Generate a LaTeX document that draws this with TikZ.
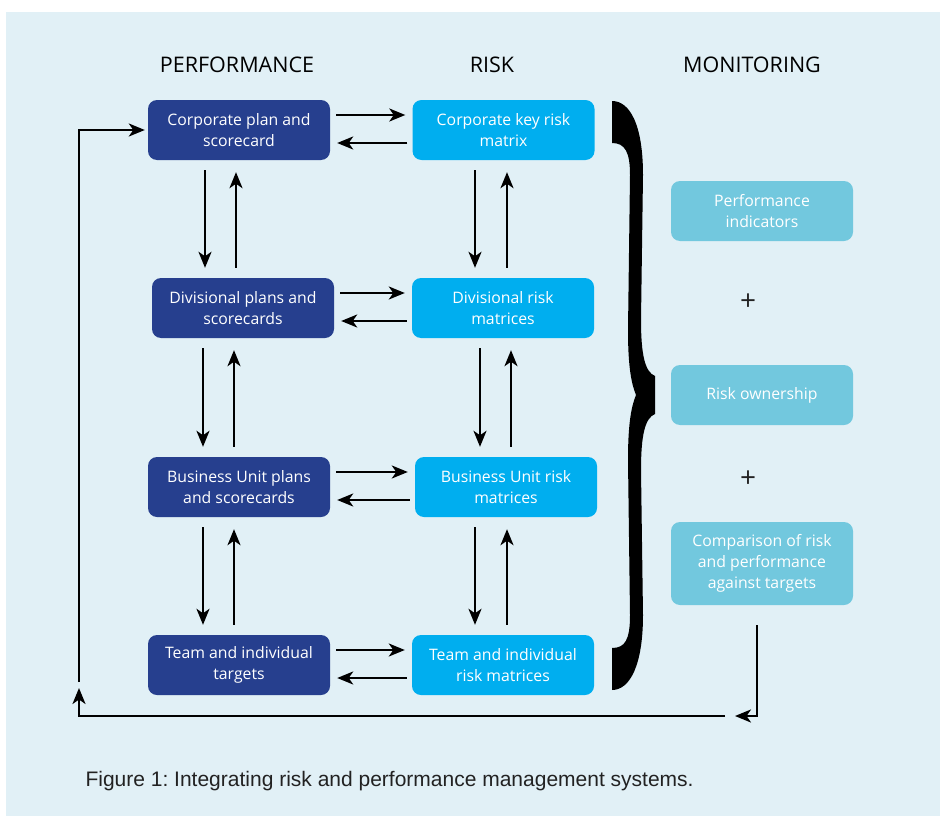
\documentclass[tikz,border=0pt]{standalone}
\usepackage{fontspec}
\setmainfont{Open Sans}
\newfontfamily\capfont{Liberation Sans}
\usetikzlibrary{arrows.meta,calc}
\frenchspacing
\definecolor{bgc}{HTML}{E1F0F6}
\definecolor{perfc}{HTML}{263F8E}
\definecolor{riskc}{HTML}{00AEEF}
\definecolor{monc}{HTML}{72C8DE}
\definecolor{txtc}{HTML}{222222}
\newcommand\vlink[4]{%
  \draw[arr, shorten <=10pt, shorten >=10pt] ([xshift=#3pt]#1.south) -- ([xshift=#3pt]#1.south |- #2.north);
  \draw[arr, shorten <=10pt, shorten >=12pt] ([xshift=#4pt]#1.south |- #2.north) -- ([xshift=#4pt]#1.south);
}
\newcommand\hlink[2]{%
  \draw[arr] ([xshift=6pt,yshift=15pt]#1.east) -- ([xshift=-7pt,yshift=15pt]#2.west);
  \draw[arr] ([xshift=-5pt,yshift=-13pt]#2.west) -- ([xshift=7pt,yshift=-13pt]#1.east);
}
\begin{document}
\begin{tikzpicture}[x=1pt,y=-1pt,
  box/.style={rounded corners=9pt, minimum width=182pt, minimum height=60pt, align=center,
    text=white, font=\fontsize{15.8}{21}\selectfont, inner sep=0pt},
  perf/.style={box, fill=perfc},
  risk/.style={box, fill=riskc},
  mon/.style={box, fill=monc},
  arr/.style={line width=2.3pt, -{Stealth[length=16pt,width=13pt,inset=4.5pt]}},
  hdr/.style={font=\fontsize{21.5}{24}\selectfont, text=black, anchor=base},
  plus/.style={font=\fontsize{28}{30}\selectfont, text=txtc},
]
\useasboundingbox (0,0) rectangle (940,816);
\fill[bgc] (6,12) rectangle (940,816);

% headers
\node[hdr] (h1) at (237,73) {PERFORMANCE};
\node[hdr] (h2) at (492,73) {RISK};
\node[hdr] (h3) at (752,73) {MONITORING};

% performance column
\node[perf] (p1) at (239,130) {Corporate plan and\\scorecard};
\node[perf] (p2) at (243,308) {Divisional plans and\\scorecards};
\node[perf] (p3) at (239,487) {Business Unit plans\\and scorecards};
\node[perf] (p4) at (239,665) {Team and individual\\targets};

% risk column
\node[risk] (r1) at (503.5,130) {Corporate key risk\\matrix};
\node[risk] (r2) at (503,308) {Divisional risk\\matrices};
\node[risk] (r3) at (506,487) {Business Unit risk\\matrices};
\node[risk] (r4) at (503,665) {Team and individual\\risk matrices};

% monitoring column
\node[mon] (m1) at (762,211) {Performance\\indicators};
\node[plus] (pl1) at (748,302) {+};
\node[mon] (m2) at (762,395) {Risk ownership};
\node[plus] (pl2) at (748,479) {+};
\node[mon, minimum height=83pt] (m3) at (762,563.5) {Comparison of risk\\and performance\\against targets};

% horizontal links
\hlink{p1}{r1}
\hlink{p2}{r2}
\hlink{p3}{r3}
\hlink{p4}{r4}

% vertical links
\vlink{p1}{p2}{-34}{-3}
\vlink{p2}{p3}{-40}{-9}
\vlink{p3}{p4}{-36}{-5}
\vlink{r1}{r2}{-28.5}{3.5}
\vlink{r2}{r3}{-23}{8}
\vlink{r3}{r4}{-31}{1}

% brace
\fill[black] (612,101)
  .. controls (630,101) and (643,125) .. (643,175)
  -- (641,320)
  .. controls (641,355) and (645,372) .. (655,376)
  -- (655,414)
  .. controls (645,418) and (641,435) .. (641,470)
  -- (643,615)
  .. controls (643,665) and (630,690) .. (612,690)
  -- (612,648)
  .. controls (625,648) and (630,640) .. (630,615)
  -- (628,460)
  .. controls (628,420) and (632,405) .. (636,395)
  .. controls (632,385) and (628,370) .. (628,330)
  -- (630,175)
  .. controls (630,152) and (625,143) .. (612,143)
  -- cycle;

% feedback loop
\coordinate (fa) at (735,716);
\coordinate (fb) at (725,716);
\coordinate (fc) at (79,688);
\coordinate (fd) at (79,682);
\draw[arr] ([xshift=-5pt,yshift=-20pt]m3.south) |- (fa);
\draw[arr] (fb) -| (fc);
\draw[arr] (fd) |- ([xshift=-3pt]p1.west);

% caption
\node[anchor=base west, font=\capfont\fontsize{21}{25}\selectfont, text=txtc] (cap) at (82,786)
  {Figure 1: Integrating risk and performance management systems.};
\end{tikzpicture}
\end{document}
